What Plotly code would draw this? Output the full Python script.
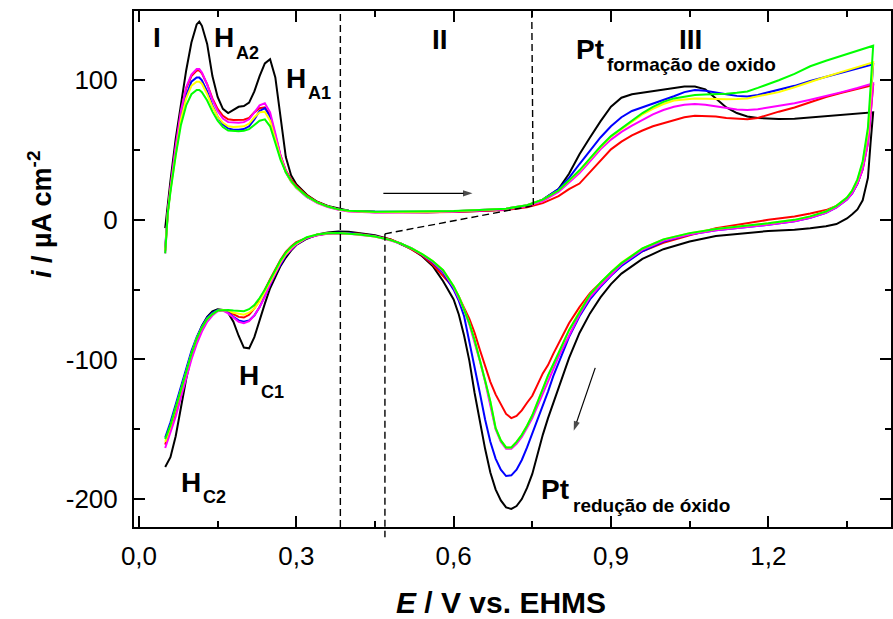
import plotly.graph_objects as go

# ---------------- data ----------------
# anodic sweep potentials (V)
E_anodic = [0.05, 0.055, 0.06, 0.07, 0.08, 0.09, 0.10, 0.11, 0.115, 0.12, 0.13, 0.14, 0.15, 0.16,
            0.17, 0.18, 0.19, 0.20, 0.21, 0.22, 0.23, 0.24, 0.25, 0.26, 0.27, 0.28, 0.29, 0.30,
            0.32, 0.34, 0.36, 0.38, 0.40, 0.45, 0.50, 0.55, 0.60, 0.65, 0.70, 0.74, 0.77,
            0.80, 0.82, 0.84, 0.86, 0.88, 0.90, 0.92, 0.94, 0.96, 0.98, 1.00, 1.02, 1.04, 1.06,
            1.08, 1.10, 1.12, 1.14, 1.16, 1.18, 1.20, 1.22, 1.25, 1.28, 1.31, 1.34, 1.37, 1.40]
# cathodic sweep potentials (V)
E_cathodic = [1.40, 1.395, 1.39, 1.38, 1.37, 1.36, 1.35,
              1.33, 1.31, 1.28, 1.25, 1.20, 1.15, 1.10, 1.05, 1.00,
              0.96, 0.92, 0.90, 0.88, 0.86, 0.84, 0.82,
              0.80, 0.79, 0.78, 0.77, 0.76, 0.75, 0.74, 0.73, 0.72, 0.71, 0.70,
              0.69, 0.68, 0.67, 0.66, 0.65, 0.64, 0.63, 0.62, 0.61, 0.60,
              0.58, 0.56, 0.54, 0.52, 0.50, 0.48, 0.45, 0.42, 0.40, 0.38, 0.36, 0.34, 0.32,
              0.30, 0.29, 0.28, 0.27, 0.26, 0.25, 0.24, 0.23, 0.22, 0.21, 0.20, 0.19, 0.18,
              0.17, 0.16, 0.15, 0.14, 0.13, 0.12, 0.11, 0.10, 0.09, 0.08, 0.07, 0.06, 0.05]

black_anodic = [-6, 12, 28, 58, 84, 107, 127, 140, 142, 139, 126, 103, 88, 79.5, 76.5, 79, 81, 81.5, 84, 92, 103, 112, 115, 102, 72, 45, 32, 25.5,
                18, 13, 10, 8, 6.5, 5.8, 5.5, 5.5, 5.8, 6.3, 7.5, 10, 14.5,
                22, 33, 47, 59, 70.5, 81, 87.5, 90, 91, 92, 93, 94, 95.5, 95.5, 93.5, 87, 80.5, 76.5, 74, 73, 72.5, 72.3, 72.5, 73.5, 74.5, 75.3, 76, 77]
black_cathodic = [77, 55, 30, 14, 7.5, 4, 1,
                  -3, -4.5, -6, -7, -8, -9.5, -11.5, -15.5, -21,
                  -28, -38.5, -46, -55.5, -67, -81, -99,
                  -120, -131, -142, -154, -168, -182, -192, -200, -205, -207, -206,
                  -201, -193, -181, -164, -145, -124, -101, -83, -68, -57,
                  -44, -33, -26, -21, -17.5, -14, -11, -9.3, -8.6, -8.4, -9, -10.5, -13.5,
                  -18, -22, -27, -33, -41, -49, -60, -72, -84, -92, -91.5, -83, -73,
                  -66.5, -64.5, -64, -65.5, -69.5, -76, -85, -97, -114, -135, -155, -170, -177]

red_anodic = [-22, 6, 23, 52, 77, 94, 103, 107, 107, 105, 97, 87, 79.5, 74.5, 72, 71.5, 71.5, 71.7, 73, 77, 80, 80.6, 75, 61, 46, 35.5, 29, 24.5,
              17.5, 12.8, 9.7, 7.5, 6.3, 5.5, 5.3, 5.4, 5.7, 6.2, 7, 9, 12,
              17, 22, 26, 34, 42, 50.5, 56, 60.5, 64, 67, 69.2, 71.5, 73.5, 74.5, 74.3, 74, 73, 72.3, 72, 73, 75.5, 77.5, 80.5, 84.5, 88, 91, 93.8, 96.6]
red_cathodic = [96.6, 75, 55, 36, 26, 19.5, 15,
                10, 7, 4.5, 2.4, 0, -3, -6, -11, -16.5,
                -22.5, -32, -38.5, -45, -52.5, -62.5, -74,
                -88, -96, -104, -110, -118, -126, -131, -136.5, -140.5, -142, -139,
                -132, -125, -116, -105, -93, -81, -71, -63, -55, -48.5,
                -40, -32, -25.5, -21, -17, -14, -11.5, -10, -9.6, -9.5, -9.8, -11, -13,
                -16, -19, -23, -28.5, -35, -42.5, -50, -57.5, -63.5, -68, -70, -69.5, -67.5,
                -65.5, -64.5, -65, -67.5, -71.5, -78, -86, -97, -110, -124, -138, -150, -161]

blue_anodic = [-20, 6, 22, 50, 74, 89, 99, 102, 102, 100, 92, 82, 74, 68.5, 65.5, 64.5, 64.5, 65, 67, 72, 78, 80, 74, 60, 45, 34, 27.5, 23,
               16.5, 12.3, 9.5, 7.5, 6.5, 5.8, 5.6, 5.8, 6.2, 6.9, 8, 10.5, 14.5,
               22, 30, 40, 49.5, 59, 67, 73.5, 78, 80.5, 83, 85.5, 88.5, 91.5, 93, 92.5, 91.5, 90, 88.8, 88.3, 89.5, 91.3, 93, 96, 99.5, 102.5, 105.5, 108.5, 111.4]
blue_cathodic = [111.4, 85, 60, 37, 26, 19, 14.5,
                 9, 5, 1.5, -1, -3.5, -5.5, -7.5, -10.5, -15.5,
                 -22.5, -33, -40, -48, -57, -69, -84,
                 -102, -112, -123, -133, -143, -154, -163, -172, -179, -183, -183.5,
                 -179, -171, -159, -143, -124, -105, -86, -69, -58, -50,
                 -38, -30.5, -25, -20.5, -17, -14.5, -11.5, -10, -9.5, -9.3, -9.6, -10.8, -13,
                 -17.5, -21, -25.5, -31.5, -38.5, -46.5, -55, -62.5, -68.5, -72, -73, -72, -69.5,
                 -66.5, -64.5, -64.5, -66.5, -70, -76, -84, -94, -107, -120, -133, -145, -156]

magenta_anodic = [-24, 6, 23, 53, 78, 95, 104, 108, 108, 105.5, 97, 86, 78, 72.5, 70, 69.5, 69.5, 70, 72, 77, 82, 83.5, 77, 62, 46, 35, 28, 23.5,
                  16.5, 12, 9.2, 7.2, 6, 5.3, 5.2, 5.4, 5.8, 6.5, 7.5, 9.8, 13.5,
                  20, 26.5, 33.5, 42, 50.5, 57.5, 63, 67.5, 71.5, 75.5, 78.7, 81, 82.5, 83, 82.5, 81.5, 80, 79, 78.7, 79.3, 80.5, 81.5, 83.5, 86, 88.5, 91.5, 94.5, 97.8]
magenta_cathodic = [97.8, 75, 55, 36, 26, 19, 14.5,
                    9, 5, 1.5, -1, -3.5, -5.5, -7.5, -10.5, -15,
                    -21.5, -32, -39.5, -47, -55.5, -68, -83,
                    -98, -107, -116, -125, -134, -142, -149, -155.5, -160.5, -164, -164,
                    -159, -150, -132, -116, -101, -87, -75, -64.5, -56, -48.5,
                    -37, -30, -25, -20.5, -17.2, -14.8, -12, -10.5, -10, -9.8, -10, -11, -13,
                    -17.5, -21, -25, -31, -38, -46, -55, -62.5, -68.5, -72.5, -74, -73, -70,
                    -67, -65, -65.5, -68.5, -73, -80, -89, -100, -113, -127, -141, -153, -163.4]

yellow_anodic = [-22, 5, 21, 48, 72, 87, 96, 99, 99, 97.5, 90, 81, 74, 69.5, 67, 66.5, 66.5, 67, 69, 73.5, 77, 77.5, 71, 58, 44, 34, 27.5, 23,
                 16.7, 12.4, 9.5, 7.5, 6.4, 5.7, 5.6, 5.8, 6.2, 6.9, 8, 10.5, 14.5,
                 21, 28, 35, 43.5, 52, 59.5, 65, 70.5, 75.5, 79.5, 83, 85.5, 86.5, 87, 86.8, 86.5, 86.3, 86.5, 87, 88.5, 90, 91.5, 95, 99, 102.5, 106, 109.5, 112.8]
yellow_cathodic = [112.8, 88, 63, 41, 28.5, 21, 16,
                   10, 6, 2.5, 0, -2.5, -4.5, -6.5, -9.5, -14,
                   -20.5, -30.5, -37.5, -45, -53.5, -65.5, -79,
                   -95.5, -103, -111.5, -121, -131, -140, -147.5, -154, -159, -163, -163,
                   -158, -149, -130, -115, -100, -86, -74, -64, -55, -47.5,
                   -36, -29.5, -24.5, -20.5, -17, -14.5, -12, -10.5, -9.8, -9.5, -9.6, -10.5, -12.5,
                   -17, -20, -24.5, -30, -37, -44.5, -52, -58.5, -63.5, -66.5, -68, -67.5, -66.5,
                   -65, -64.5, -65, -67.5, -71, -77, -85, -96, -109, -122.5, -136, -148, -159]

green_anodic = [-24, 5, 20, 46, 68, 82, 90, 93, 93, 91.5, 85.5, 77.5, 71, 66.5, 64, 63.5, 63.5, 63.8, 65, 68, 71, 72, 67, 55, 43, 34, 28, 23.5,
                17, 12.5, 9.5, 7.5, 6.5, 5.8, 5.8, 6, 6.3, 7, 8, 10.5, 14.5,
                21, 28, 35.5, 44, 52.5, 60, 65.5, 71, 76.5, 81, 84.5, 87, 88.5, 89.5, 89.8, 90, 90.3, 91, 92, 94.5, 97, 100, 104.5, 110, 114, 117.5, 121, 124.7]
green_cathodic = [124.7, 95, 66, 42, 29, 21, 16,
                  10, 6, 2.5, 0, -2.5, -4.5, -6.5, -9.5, -14,
                  -20.5, -31, -37.5, -45, -53.5, -66, -79,
                  -95.5, -103, -111.5, -121, -131, -140, -147.5, -154, -159, -163, -163,
                  -158, -149, -130, -115, -100, -86, -74, -64, -55, -47.5,
                  -36, -29.5, -24.5, -20.5, -17, -14.5, -12, -10.5, -9.8, -9.5, -9.6, -10.5, -12.5,
                  -16.5, -19.5, -23.5, -29, -35.5, -43, -50, -56, -61, -64, -65.5, -65.5, -65,
                  -64.5, -64.5, -65, -67.5, -71, -77, -85, -96, -109, -122, -135, -147, -157]

series = [
    ("black", black_anodic, black_cathodic),
    ("#ff0000", red_anodic, red_cathodic),
    ("#0000ff", blue_anodic, blue_cathodic),
    ("#ff00ff", magenta_anodic, magenta_cathodic),
    ("#ffff00", yellow_anodic, yellow_cathodic),
    ("#00ff00", green_anodic, green_cathodic),
]

# sweep-direction arrows (tail -> head), in data units
arrow_forward_E = [0.466, 0.636]
arrow_forward_i = [19, 19]
arrow_back_E = [0.87, 0.829]
arrow_back_i = [-106, -151]

x_tickvals = [0.0, 0.3, 0.6, 0.9, 1.2]
x_ticktext = ["0,0", "0,3", "0,6", "0,9", "1,2"]
y_tickvals = [-200, -100, 0, 100]
y_ticktext = ["-200", "-100", "0", "100"]

X_RANGE = [-0.0095, 1.434]
Y_RANGE = [-220, 149.6]

# ---------------- figure ----------------
W, H = 893, 619
ML, MR, MT, MB = 134, 2, 11, 92
PW, PH = W - ML - MR, H - MT - MB

def pxx(px):
    return (px - ML) / PW

def pxy(py):
    return (H - MB - py) / PH

def iy(i):
    return (i - Y_RANGE[0]) / (Y_RANGE[1] - Y_RANGE[0])

fig = go.Figure()
for color, an, ca in series:
    fig.add_trace(go.Scatter(x=E_anodic + E_cathodic, y=an + ca, mode="lines",
                             line=dict(color=color, width=2), showlegend=False,
                             hoverinfo="skip"))

for ex, iy_ in ((arrow_forward_E, arrow_forward_i), (arrow_back_E, arrow_back_i)):
    fig.add_trace(go.Scatter(x=ex, y=iy_, mode="lines+markers",
                             line=dict(color="black", width=1.2),
                             marker=dict(symbol=["circle", "arrow"], size=[0, 10],
                                         angleref="previous", color="black",
                                         line=dict(width=0)),
                             showlegend=False, hoverinfo="skip"))

FONT = "Arial, Liberation Sans, sans-serif"
dash = "7px,4px"
shapes = [
    dict(type="line", xref="x", yref="paper", x0=0.384, x1=0.384, y0=0, y1=1,
         line=dict(color="black", width=1.4, dash=dash)),
    dict(type="line", xref="x", yref="paper", x0=0.469, x1=0.469, y0=iy(-10), y1=-0.02,
         line=dict(color="black", width=1.4, dash=dash)),
    dict(type="line", xref="x", yref="y", x0=0.469, x1=0.75, y0=-10, y1=10,
         line=dict(color="black", width=1.4, dash=dash)),
    dict(type="line", xref="x", yref="paper", x0=0.749, x1=0.752, y0=1, y1=iy(10),
         line=dict(color="black", width=1.4, dash=dash)),
]

ann = []
def label(text, px, py, size=28, anchor="left"):
    ann.append(dict(text="<b>%s</b>" % text, xref="paper", yref="paper", x=pxx(px), y=pxy(py),
                    xanchor=anchor, yanchor="middle", showarrow=False,
                    font=dict(family=FONT, size=size, color="black")))

label("I", 157, 38, anchor="center")
label("H", 212, 38); label("A2", 234, 53, 18)
label("H", 284, 78); label("A1", 306, 93, 18)
label("II", 440, 40, anchor="center")
label("III", 690, 40, anchor="center")
label("Pt", 574, 49); label("formação de oxido", 605, 65, 19)
label("H", 237, 376); label("C1", 259, 392, 18)
label("H", 179, 482); label("C2", 201, 497, 18)
label("Pt", 539, 489); label("redução de óxido", 571, 505, 19)

# axis titles (placed as annotations, off-centre like the reference)
ann.append(dict(text="<b><i>E</i> / V vs. EHMS</b>", xref="paper", yref="paper",
                x=pxx(501), y=pxy(602), xanchor="center", yanchor="middle", showarrow=False,
                font=dict(family=FONT, size=30, color="black")))
ann.append(dict(text="<b><i>i</i> / µA cm<sup>-2</sup></b>", xref="paper", yref="paper",
                x=pxx(40), y=pxy(215), xanchor="center", yanchor="middle", showarrow=False,
                textangle=-90, font=dict(family=FONT, size=27, color="black")))

axis_common = dict(showline=True, linecolor="black", linewidth=2, mirror="allticks",
                   ticks="inside", ticklen=11, tickwidth=1.5, tickcolor="black",
                   showgrid=False, zeroline=False, automargin=False,
                   tickfont=dict(family=FONT, size=26, color="black"))

fig.update_layout(
    width=W, height=H, margin=dict(l=ML, r=MR, t=MT, b=MB),
    paper_bgcolor="white", plot_bgcolor="white",
    shapes=shapes, annotations=ann, showlegend=False,
    xaxis=dict(range=X_RANGE, tickvals=x_tickvals, ticktext=x_ticktext,
               minor=dict(ticks="inside", ticklen=6, tickwidth=1.5, tickcolor="black", dtick=0.15, tick0=0),
               ticklabelstandoff=5, **axis_common),
    yaxis=dict(range=Y_RANGE, tickvals=y_tickvals, ticktext=y_ticktext,
               minor=dict(ticks="inside", ticklen=6, tickwidth=1.5, tickcolor="black", dtick=50, tick0=0),
               ticklabelstandoff=9, **axis_common),
)

fig.write_html("out.html")
